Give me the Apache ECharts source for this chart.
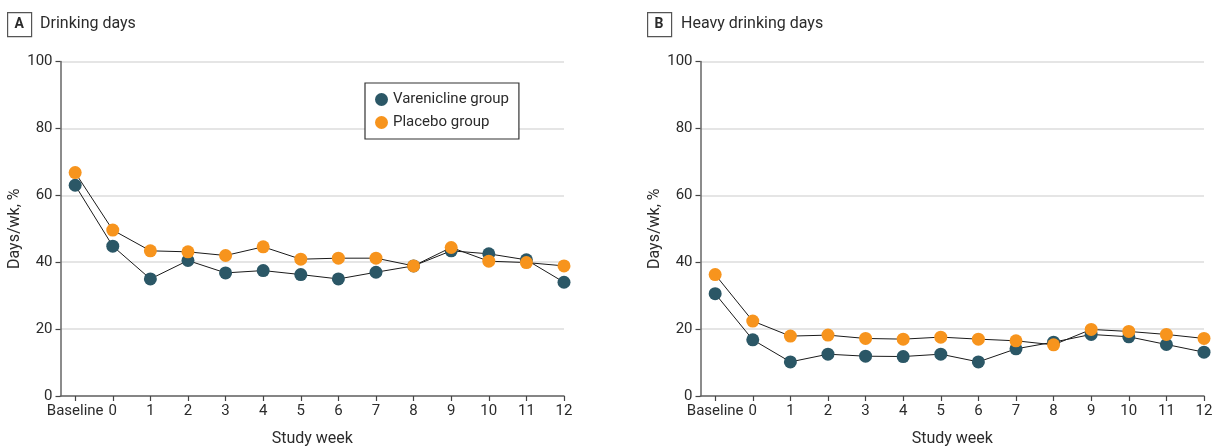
<!DOCTYPE html>
<html>
<head>
<meta charset="utf-8">
<script src="https://cdn.jsdelivr.net/npm/echarts@6/dist/echarts.min.js"></script>
<style>
html,body{margin:0;padding:0;background:#fff;}
#chart{width:1215px;height:446px;}
</style>
</head>
<body>
<div id="chart"></div>
<script>
// ---- data ----
const weekLabels = ['Baseline','0','1','2','3','4','5','6','7','8','9','10','11','12'];
const weekPos = [-1,0,1,2,3,4,5,6,7,8,9,10,11,12];
const yTicks = [0,20,40,60,80,100];

const drinkVaren   = [63.0,44.8,35.0,40.5,36.8,37.5,36.3,35.0,37.0,38.9,43.4,42.5,40.7,34.0];
const drinkPlacebo = [66.8,49.6,43.4,43.1,42.0,44.6,40.9,41.2,41.2,38.9,44.4,40.3,39.9,38.9];
const heavyVaren   = [30.6,16.8,10.2,12.5,11.9,11.8,12.5,10.2,14.1,16.1,18.4,17.7,15.4,13.1];
const heavyPlacebo = [36.3,22.4,17.9,18.2,17.2,17.0,17.6,17.0,16.5,15.3,19.9,19.3,18.4,17.2];

const panelTitles = ['Drinking days','Heavy drinking days'];
const panelLetters = ['A','B'];
const seriesNames = ['Varenicline group','Placebo group'];

// ---- style ----
const FONT = 'Roboto, "Noto Sans", sans-serif';
const TXT = '#2b2b2b';
const TEAL = '#2b5766';
const ORANGE = '#f7941d';

function pairs(vals){ return vals.map((v,i)=>[weekPos[i], v]); }

function xAxis(gi){
  return {
    gridIndex: gi, type:'value', min:-1.39, max:12,
    name:'Study week', nameLocation:'middle', nameGap:35,
    nameTextStyle:{fontFamily:FONT,fontSize:16,color:TXT},
    axisLine:{show:true,onZero:false,lineStyle:{color:'#666',width:1.5}},
    axisTick:{show:true,length:5,customValues:weekPos,lineStyle:{color:'#444',width:1.2}},
    axisLabel:{customValues:weekPos,margin:8,fontFamily:FONT,fontSize:15,color:TXT,
      formatter:(v)=>{const i=weekPos.indexOf(Math.round(v)); return i>=0?weekLabels[i]:'';}},
    splitLine:{show:false}
  };
}
function yAxis(gi){
  return {
    gridIndex: gi, type:'value', min:0, max:100, interval:20,
    name:'Days/wk, %', nameLocation:'middle', nameGap:37,
    nameTextStyle:{fontFamily:FONT,fontSize:16,color:TXT},
    axisLine:{show:true,onZero:false,lineStyle:{color:'#666',width:1.5}},
    axisTick:{show:true,length:5,lineStyle:{color:'#444',width:1.2}},
    axisLabel:{margin:8,fontFamily:FONT,fontSize:15,color:TXT},
    splitLine:{show:true,lineStyle:{color:'#dddddd',width:1.5}}
  };
}
function series(name, vals, gi, color, z){
  return {
    name, type:'line', xAxisIndex:gi, yAxisIndex:gi, data:pairs(vals),
    symbol:'circle', symbolSize:13, showSymbol:true, z,
    lineStyle:{color:'#1a1a1a',width:1},
    itemStyle:{color, borderWidth:0},
    emphasis:{disabled:true}, animation:false
  };
}

const graphics = [];
[[7,40],[647,681]].forEach((p,i)=>{
  graphics.push({type:'rect',left:p[0],top:12,shape:{width:24,height:24},
    style:{fill:'#fff',stroke:'#555',lineWidth:1.2}});
  graphics.push({type:'text',left:p[0]+7.5,top:17,
    style:{text:panelLetters[i],font:'bold 14px '+FONT,fill:TXT}});
  graphics.push({type:'text',left:p[1],top:15.5,
    style:{text:panelTitles[i],font:'16px '+FONT,fill:TXT}});
});

const chart = echarts.init(document.getElementById('chart'), null, {renderer:'canvas'});
chart.setOption({
  animation:false,
  textStyle:{fontFamily:FONT},
  grid:[
    {left:60.5,right:651,top:61.5,bottom:50,containLabel:false,outerBoundsMode:'none'},
    {left:700.5,right:11,top:61.5,bottom:50,containLabel:false,outerBoundsMode:'none'}
  ],
  xAxis:[xAxis(0),xAxis(1)],
  yAxis:[yAxis(0),yAxis(1)],
  legend:{
    data:seriesNames, orient:'vertical', left:365, top:83,
    padding:[9,10,9,10], itemGap:8,
    icon:'circle', itemWidth:13, itemHeight:13,
    borderColor:'#333', borderWidth:1.2, backgroundColor:'#fff',
    textStyle:{fontFamily:FONT,fontSize:15,color:TXT},
    selectedMode:false
  },
  series:[
    series(seriesNames[0], drinkVaren, 0, TEAL, 2),
    series(seriesNames[1], drinkPlacebo, 0, ORANGE, 3),
    series(seriesNames[0], heavyVaren, 1, TEAL, 2),
    series(seriesNames[1], heavyPlacebo, 1, ORANGE, 3)
  ],
  graphic:graphics
});
</script>
</body>
</html>
